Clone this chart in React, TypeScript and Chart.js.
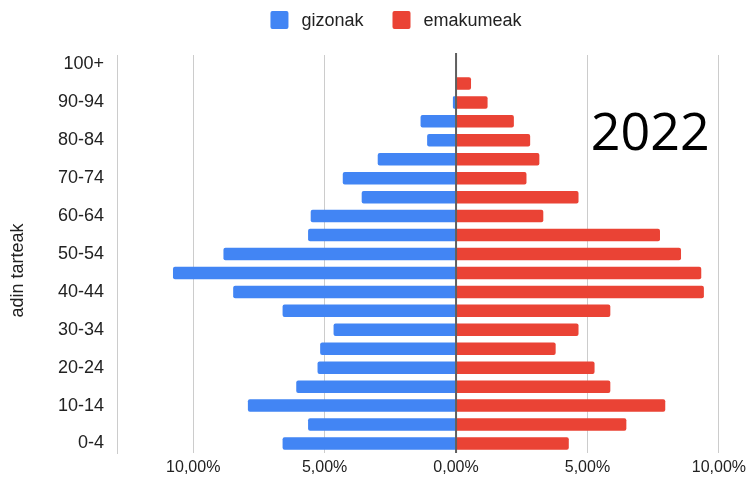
import React, { useEffect, useRef } from 'react';
import { Chart, registerables } from 'chart.js';

Chart.register(...registerables);

// ---- data ----
const ageGroups = [
  '0-4', '5-9', '10-14', '15-19', '20-24', '25-29', '30-34', '35-39', '40-44', '45-49',
  '50-54', '55-59', '60-64', '65-69', '70-74', '75-79', '80-84', '85-89', '90-94', '95-99', '100+',
];
// percentage of population (men shown to the left)
const gizonak = [
  6.6, 5.63, 7.92, 6.08, 5.27, 5.17, 4.66, 6.6, 8.48, 10.77,
  8.85, 5.63, 5.53, 3.59, 4.31, 2.98, 1.1, 1.35, 0.12, 0, 0,
];
const emakumeak = [
  4.29, 6.48, 7.96, 5.87, 5.27, 3.79, 4.66, 5.87, 9.43, 9.33,
  8.56, 7.76, 3.32, 4.66, 2.68, 3.17, 2.82, 2.2, 1.2, 0.57, 0,
];
const seriesNames = ['gizonak', 'emakumeak'];
const yearLabel = '2022';
const axisTitle = 'adin tarteak';
const xMin = -12.9;
const xMax = 10;
const xStep = 5;

const BLUE = '#4285F4';
const RED = '#EA4335';
const FONT = '"Liberation Sans", Arial, sans-serif';

function fmtPct(v: number): string {
  return Math.abs(v).toFixed(2).replace('.', ',') + '%';
}

const extrasPlugin = {
  id: 'extras',
  afterDatasetsDraw(chart: any) {
    const { ctx, chartArea, scales } = chart;
    const xs = scales.x;
    const ys = scales.y;
    // zero line
    const x0 = xs.getPixelForValue(0);
    ctx.save();
    ctx.strokeStyle = '#5f5f5f';
    ctx.lineWidth = 2;
    ctx.beginPath();
    ctx.moveTo(x0, chartArea.top - 2);
    ctx.lineTo(x0, chartArea.bottom);
    ctx.stroke();
    // year label
    ctx.fillStyle = '#000';
    ctx.font = '52px "Open Sans", "Noto Sans", sans-serif';
    ctx.textAlign = 'center';
    ctx.textBaseline = 'alphabetic';
    ctx.fillText(yearLabel, xs.getPixelForValue(7.39), ys.getPixelForValue(15.5));
    ctx.restore();
  },
  afterDraw(chart: any) {
    const { ctx, chartArea } = chart;
    const ds = chart.data.datasets;
    ctx.save();
    // axis title
    ctx.translate(18, (chartArea.top + chart.height) / 2);
    ctx.rotate(-Math.PI / 2);
    ctx.font = '18px ' + FONT;
    ctx.fillStyle = '#222';
    ctx.textAlign = 'center';
    ctx.textBaseline = 'middle';
    ctx.fillText(axisTitle, 0, 0);
    ctx.restore();

    ctx.save();
    ctx.font = '18px ' + FONT;
    const box = 18, gap = 13, itemGap = 29;
    const widths = ds.map((d: any) => ctx.measureText(d.label).width);
    let total = 0;
    widths.forEach((w: number) => (total += box + gap + w));
    total += itemGap * (ds.length - 1);
    let x = 396 - total / 2;
    const yTop = 11;
    ds.forEach((d: any, i: number) => {
      ctx.fillStyle = d.backgroundColor;
      ctx.beginPath();
      (ctx as any).roundRect(x, yTop, box, box, 2);
      ctx.fill();
      ctx.fillStyle = '#222';
      ctx.textAlign = 'left';
      ctx.textBaseline = 'middle';
      ctx.fillText(d.label, x + box + gap, yTop + box / 2 + 1);
      x += box + gap + widths[i] + itemGap;
    });
    ctx.restore();
  },
};

export default function App() {
  const ref = useRef<HTMLCanvasElement | null>(null);

  useEffect(() => {
    document.body.style.margin = '0';
    if (!ref.current) return;
    const chart = new Chart(ref.current, {
      type: 'bar',
      data: {
        labels: ageGroups,
        datasets: [
          {
            label: seriesNames[0],
            data: gizonak.map((v) => -v),
            backgroundColor: BLUE,
            borderRadius: 2,
            borderSkipped: 'start',
            categoryPercentage: 1,
            barPercentage: 0.66,
          },
          {
            label: seriesNames[1],
            data: emakumeak,
            backgroundColor: RED,
            borderRadius: 2,
            borderSkipped: 'start',
            categoryPercentage: 1,
            barPercentage: 0.66,
          },
        ],
      },
      options: {
        indexAxis: 'y',
        responsive: false,
        animation: false,
        devicePixelRatio: 1,
        layout: { padding: { top: 55, right: 30, left: 0, bottom: 0 } },
        plugins: {
          legend: { display: false },
          tooltip: { enabled: false },
        },
        scales: {
          x: {
            type: 'linear',
            min: xMin,
            max: xMax,
            stacked: true,
            grid: { color: '#cccccc', drawTicks: false, lineWidth: 1 },
            border: { display: false },
            ticks: {
              stepSize: xStep,
              color: '#222',
              font: { size: 16, family: FONT },
              padding: 5,
              callback: (v: any) => (Math.abs(Number(v)) > 10.5 ? '' : fmtPct(Number(v))),
            },
            afterFit: (s: any) => {
              s.height = 33;
            },
          },
          y: {
            type: 'category',
            reverse: true,
            stacked: true,
            grid: { display: false, drawTicks: false },
            border: { display: true, color: '#cccccc', width: 1 },
            ticks: {
              autoSkip: false,
              color: '#222',
              font: { size: 18, family: FONT },
              padding: 13,
              callback: (_v: any, i: number) => (i % 2 === 0 ? ageGroups[i] : ''),
            },
            title: { display: false },
            afterFit: (s: any) => {
              s.width = 117;
            },
          },
        },
      } as any,
      plugins: [extrasPlugin],
    });
    return () => chart.destroy();
  }, []);

  return (
    <div style={{ width: 751, height: 486 }}>
      <canvas ref={ref} width={751} height={486} />
    </div>
  );
}
